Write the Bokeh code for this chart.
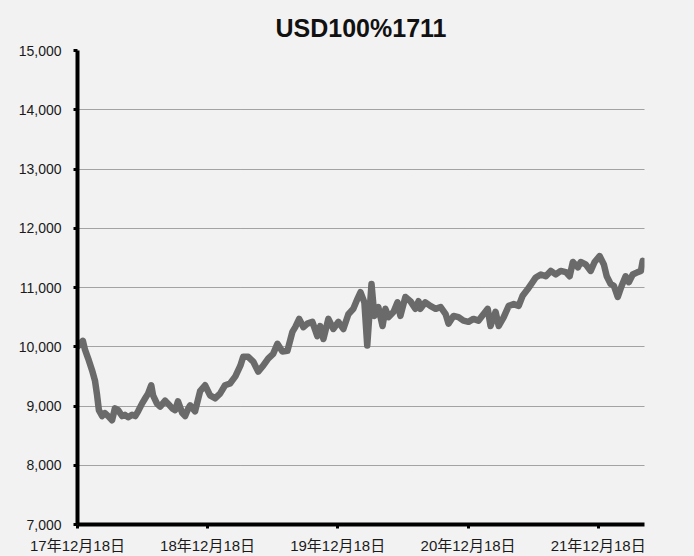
from datetime import datetime
from bokeh.plotting import figure
from bokeh.models import ColumnDataSource, FixedTicker, NumeralTickFormatter, Range1d, GlobalInlineStyleSheet
from bokeh.embed import file_html
from bokeh.resources import INLINE

title_text = "USD100%1711"

dates = [
    "2017-12-18", "2017-12-25", "2018-01-02", "2018-01-08", "2018-01-17", "2018-01-28",
    "2018-02-05", "2018-02-11", "2018-02-16", "2018-02-25", "2018-03-05", "2018-03-14",
    "2018-03-25", "2018-04-02", "2018-04-11", "2018-04-22", "2018-04-30", "2018-05-09",
    "2018-05-20", "2018-05-29", "2018-06-06", "2018-06-17", "2018-06-26", "2018-07-04",
    "2018-07-13", "2018-07-18", "2018-07-29", "2018-08-07", "2018-08-21", "2018-08-29",
    "2018-09-10", "2018-09-18", "2018-09-26", "2018-10-08", "2018-10-16", "2018-10-25",
    "2018-10-30", "2018-11-13", "2018-11-27", "2018-12-11", "2018-12-25", "2019-01-08",
    "2019-01-22", "2019-02-05", "2019-02-19", "2019-03-06", "2019-03-20", "2019-03-28",
    "2019-04-11", "2019-04-25", "2019-05-09", "2019-05-23", "2019-06-06", "2019-06-20",
    "2019-07-02", "2019-07-16", "2019-07-30", "2019-08-13", "2019-08-21", "2019-09-01",
    "2019-09-13", "2019-09-24", "2019-10-08", "2019-10-22", "2019-10-30", "2019-11-08",
    "2019-11-22", "2019-12-06", "2019-12-20", "2020-01-03", "2020-01-17", "2020-01-31",
    "2020-02-11", "2020-02-20", "2020-03-02", "2020-03-10", "2020-03-22", "2020-03-30",
    "2020-04-10", "2020-04-22", "2020-04-30", "2020-05-09", "2020-05-23", "2020-06-03",
    "2020-06-11", "2020-06-25", "2020-07-09", "2020-07-23", "2020-08-01", "2020-08-06",
    "2020-08-20", "2020-09-03", "2020-09-18", "2020-10-02", "2020-10-16", "2020-10-24",
    "2020-11-07", "2020-11-21", "2020-12-05", "2020-12-19", "2021-01-02", "2021-01-16",
    "2021-01-30", "2021-02-11", "2021-02-19", "2021-03-05", "2021-03-14", "2021-03-28",
    "2021-04-11", "2021-04-25", "2021-05-09", "2021-05-20", "2021-06-03", "2021-06-17",
    "2021-06-26", "2021-07-10", "2021-07-24", "2021-08-07", "2021-08-21", "2021-09-04",
    "2021-09-18", "2021-09-29", "2021-10-08", "2021-10-22", "2021-10-30", "2021-11-13",
    "2021-11-27", "2021-12-08", "2021-12-22", "2022-01-03", "2022-01-11", "2022-01-22",
    "2022-01-31", "2022-02-11", "2022-02-22", "2022-03-05", "2022-03-14", "2022-03-25",
    "2022-04-08", "2022-04-17", "2022-04-22",
]

values = [
    10000, 10050, 10100, 9950, 9800, 9600,
    9430, 9180, 8930, 8830, 8880, 8830,
    8760, 8960, 8930, 8830, 8850, 8810,
    8850, 8830, 8910, 9040, 9130, 9210,
    9350, 9180, 9040, 8990, 9090, 9040,
    8960, 8930, 9080, 8880, 8830, 8960,
    9010, 8910, 9250, 9350, 9180, 9130,
    9210, 9350, 9380, 9500, 9680, 9830,
    9830, 9750, 9580, 9680, 9800, 9880,
    10050, 9920, 9930, 10250, 10330, 10470,
    10330, 10390, 10420, 10180, 10350, 10130,
    10470, 10300, 10420, 10300, 10550, 10640,
    10800, 10920, 10750, 10020, 11060, 10520,
    10670, 10350, 10640, 10500, 10590, 10750,
    10520, 10840, 10770, 10640, 10770, 10640,
    10750, 10690, 10640, 10670, 10550, 10390,
    10520, 10500, 10440, 10420, 10470, 10440,
    10550, 10640, 10350, 10590, 10350, 10500,
    10690, 10720, 10690, 10860, 10970, 11090,
    11170, 11220, 11190, 11280, 11220, 11280,
    11260, 11190, 11430, 11340, 11430, 11390,
    11280, 11430, 11530, 11390, 11190, 11060,
    11030, 10840, 11030, 11190, 11090, 11220,
    11260, 11280, 11450,
]

tick_dates = ["2017-12-18", "2018-12-18", "2019-12-18", "2020-12-18", "2021-12-18"]
tick_labels = ["17年12月18日", "18年12月18日", "19年12月18日", "20年12月18日", "21年12月18日"]
y_ticks = [7000, 8000, 9000, 10000, 11000, 12000, 13000, 14000, 15000]
x_start, x_end = "2017-12-18", "2022-04-27"
y_start, y_end = 7000, 15000


def to_ms(s):
    return datetime.strptime(s, "%Y-%m-%d").timestamp() * 1000.0


xs = [to_ms(d) for d in dates]
source = ColumnDataSource(data=dict(x=xs, y=values))

BG = "#f2f2f2"
FONT = "Liberation Sans, Arial, Noto Sans CJK JP"

p = figure(
    width=694, height=556,
    output_backend="svg", toolbar_location=None,
    x_range=Range1d(to_ms(x_start), to_ms(x_end)),
    y_range=Range1d(y_start, y_end),
    min_border_left=77, min_border_right=50, min_border_top=50, min_border_bottom=29,
    background_fill_color=BG, border_fill_color=BG,
    title=title_text,
)
p.outline_line_color = None
p.title.align = "center"
p.title.text_font = FONT
p.title.text_font_size = "25px"
p.title.text_font_style = "bold"
p.title.text_color = "#111111"
p.title.standoff = 18

p.line("x", "y", source=source, line_color="#6a6a6a", line_width=6.5,
       line_join="round", line_cap="round")

# axes
p.xaxis.ticker = FixedTicker(ticks=[to_ms(d) for d in tick_dates])
p.xaxis.major_label_overrides = {to_ms(d): lab for d, lab in zip(tick_dates, tick_labels)}
p.yaxis.ticker = FixedTicker(ticks=y_ticks)
p.yaxis.formatter = NumeralTickFormatter(format="0,0")

for ax in (p.xaxis[0], p.yaxis[0]):
    ax.axis_line_width = 4
    ax.axis_line_color = "#000000"
    ax.major_tick_line_width = 3
    ax.major_tick_line_color = "#000000"
    ax.major_tick_in = 0
    ax.major_tick_out = 4
    ax.minor_tick_line_color = None
    ax.major_label_text_font = FONT
    ax.major_label_text_color = "#1a1a1a"

p.yaxis.major_label_text_font_size = "14px"
p.yaxis.major_label_standoff = 12
p.xaxis.major_label_text_font_size = "15px"
p.xaxis.major_label_standoff = 8

p.xgrid.grid_line_color = None
p.ygrid.ticker = FixedTicker(ticks=y_ticks[1:])
p.ygrid.grid_line_color = "#555555"
p.ygrid.grid_line_width = 1
p.ygrid.grid_line_dash = "1 1"

p.stylesheets.append(GlobalInlineStyleSheet(css="body { background: #f2f2f2; }"))

open("out.html", "w").write(file_html(p, INLINE))
